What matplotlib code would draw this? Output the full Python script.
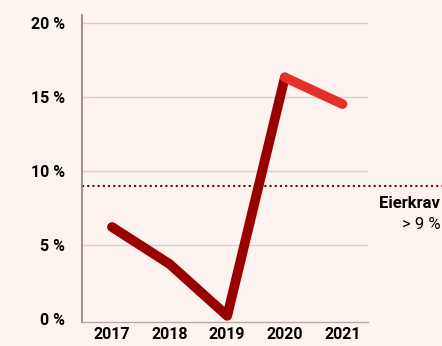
import matplotlib.pyplot as plt

years = [2017, 2018, 2019, 2020, 2021]
returns = [6.2, 3.7, 0.2, 16.3, 14.5]
y_ticks = [0, 5, 10, 15, 20]
y_tick_labels = ["0 %", "5 %", "10 %", "15 %", "20 %"]
owner_requirement = 9

bg = "#fdf3ee"
dark_red = "#990000"
bright_red = "#e3302a"

plt.rcParams["font.family"] = ["Roboto", "DejaVu Sans"]

fig = plt.figure(figsize=(4.42, 3.46), dpi=100, facecolor=bg)
ax = fig.add_axes([0.1855, 0.07, 0.648, 0.886], facecolor=bg)

ax.set_xlim(2016.48, 2021.45)
ax.set_ylim(-0.2, 20.5)

for y in y_ticks[1:]:
    ax.axhline(y, color="#dccfcb", lw=1, zorder=1)

# Owner's return requirement, extending beyond the plot area
ax.axhline(owner_requirement, xmin=0, xmax=1.3, color="#6b0a0a", lw=1.5,
           linestyle=(0, (1, 1.5)), clip_on=False, zorder=2)

ax.plot(years[:4], returns[:4], color=dark_red, lw=7,
        solid_capstyle="round", solid_joinstyle="round", zorder=3)
ax.plot(years[3:], returns[3:], color=bright_red, lw=7,
        solid_capstyle="round", solid_joinstyle="round", zorder=4)

ax.set_xticks(years)
ax.set_xticklabels([str(y) for y in years], fontsize=11.5, fontweight="bold")
ax.set_yticks(y_ticks)
ax.set_yticklabels(y_tick_labels, fontsize=11.5, fontweight="bold")
ax.tick_params(length=0, pad=4)
ax.tick_params(axis="y", pad=12)

for s in ["top", "right"]:
    ax.spines[s].set_visible(False)
ax.spines["left"].set_color("#8a7f7d")
ax.spines["left"].set_linewidth(1.2)
ax.spines["bottom"].set_color("#b5aaa7")
ax.spines["bottom"].set_linewidth(1)

fig.text(0.996, 0.413, "Eierkrav", ha="right", va="center",
         fontsize=12, fontweight="bold")
fig.text(0.996, 0.352, "> 9 %", ha="right", va="center", fontsize=12)

fig.savefig("out.png", dpi=100, facecolor=bg)
